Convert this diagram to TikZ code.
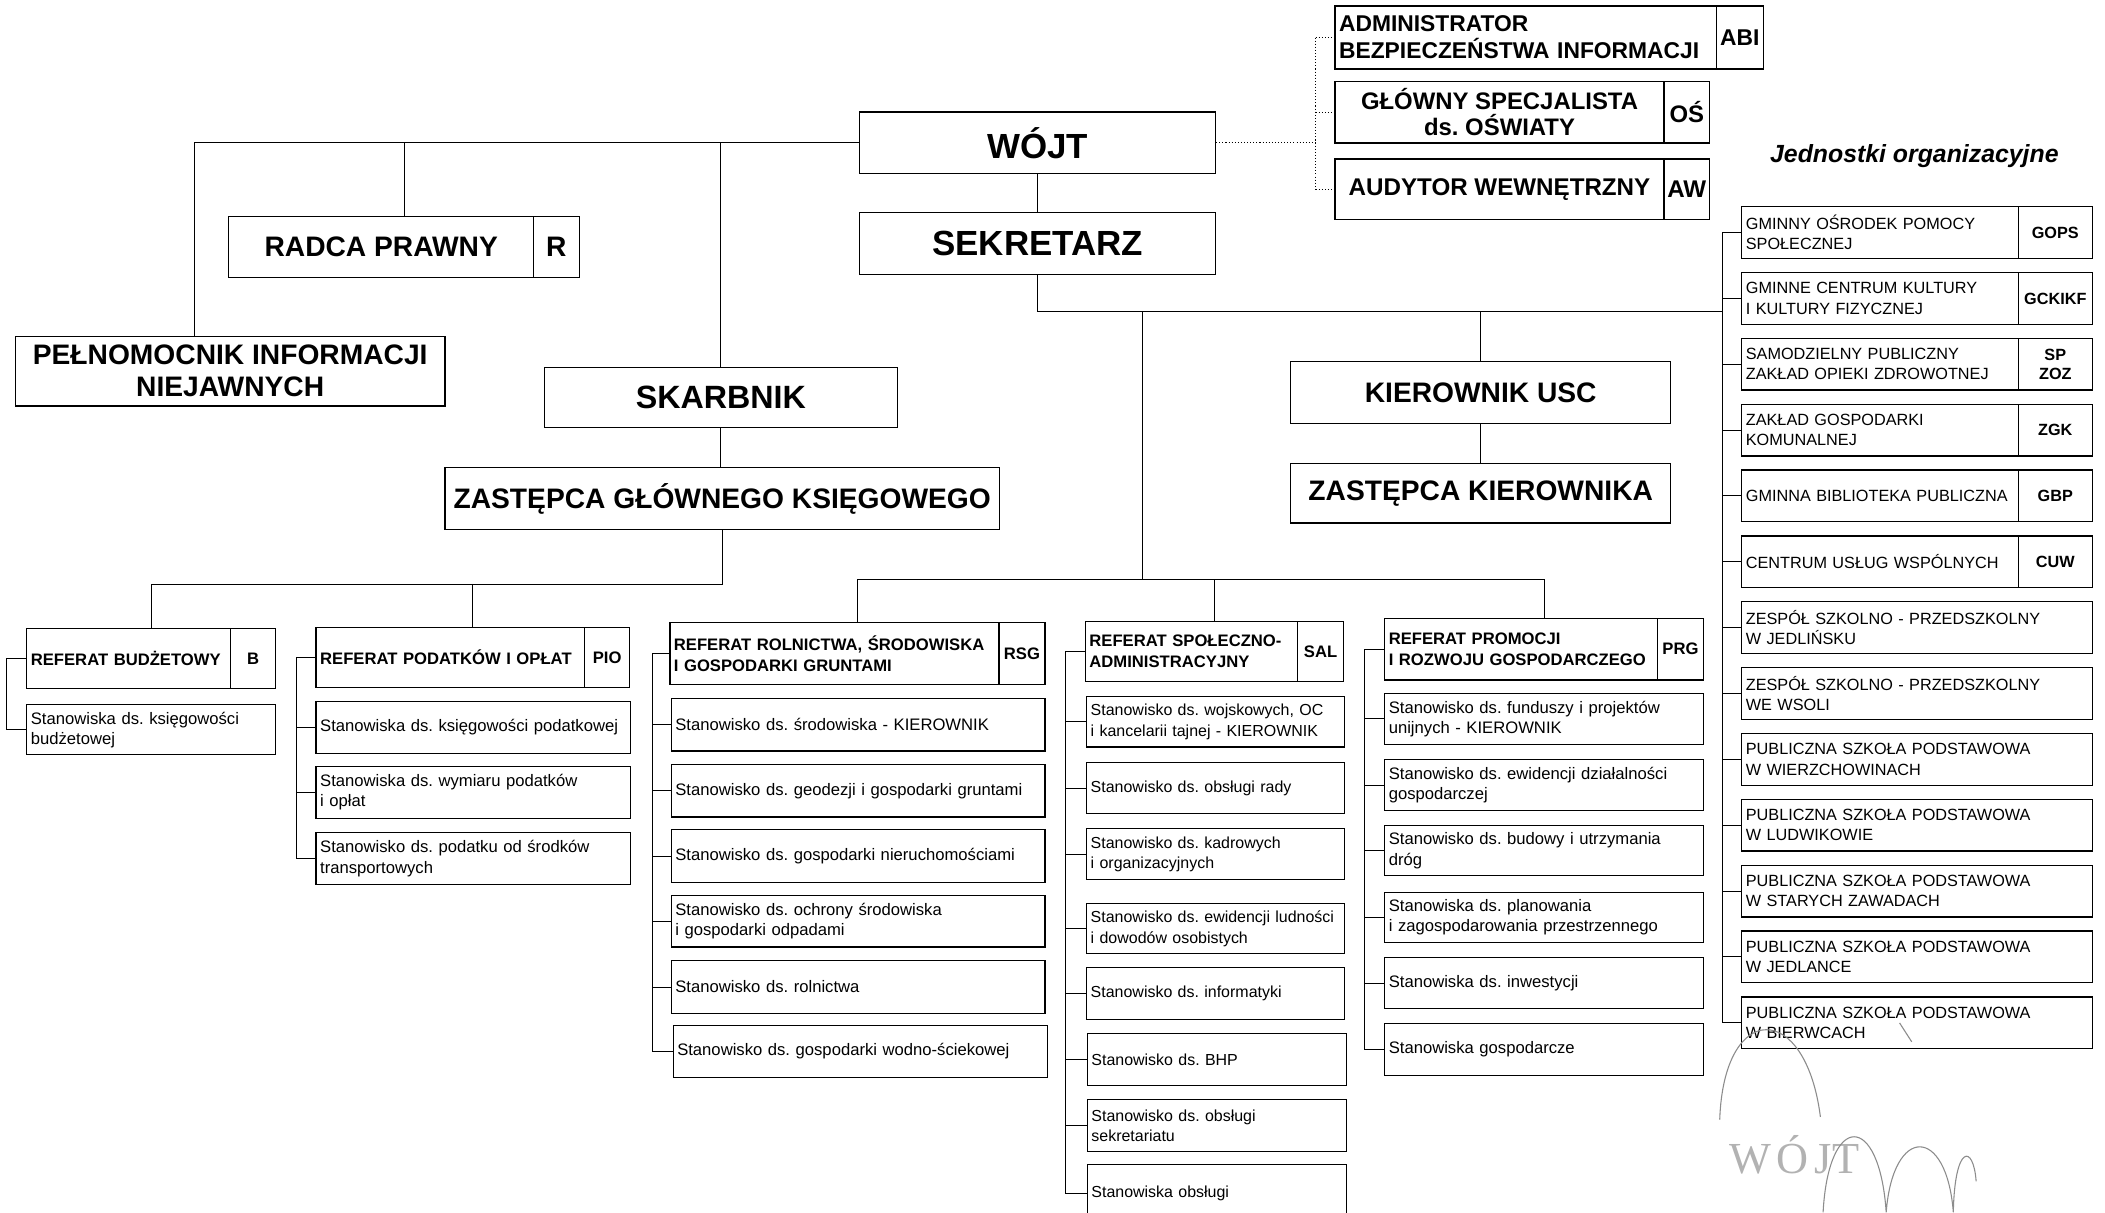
\documentclass[tikz,border=0pt]{standalone}
\usepackage{fontspec}
\setmainfont{Liberation Sans}
\newfontfamily\stampfont{Liberation Serif}
\usetikzlibrary{calc}
\newcommand\fsz[2]{\fontsize{#1}{#2}\selectfont}
\newcommand\mkbox[7][]{\pgfmathsetmacro\mybw{#5-#3}\pgfmathsetmacro\mybh{#6-#4}%
  \node[bx,minimum width=\mybw pt,minimum height=\mybh pt,#1] (#2) at (#3,#4) {#7};}
\newcommand\mklbox[7][]{\pgfmathsetmacro\mybw{#5-#3}\pgfmathsetmacro\mybh{#6-#4}\pgfmathsetmacro\mytw{#5-#3-6}%
  \node[bx,minimum width=\mybw pt,minimum height=\mybh pt,inner xsep=3pt,text width=\mytw pt,align=left,#1] (#2) at (#3,#4) {#7};}
\frenchspacing
\begin{document}
\frenchspacing
\begin{tikzpicture}[x=1pt,y=-1pt,
  bx/.style={draw, line width=0.95pt, inner sep=0pt, anchor=north west, align=center},
  conn/.style={line width=0.7pt},
  dotln/.style={line width=0.7pt, dash pattern=on 0.8pt off 1.5pt},
  hd/.style={font=\bfseries\fsz{21}{24}},
  sm/.style={font=\fsz{12.4}{15}},
  sms/.style={font=\fsz{11.9}{15}},
  smb/.style={font=\bfseries\fsz{12.4}{15.5}},
  rc/.style={font=\fsz{12.1}{15}},
  rcb/.style={font=\bfseries\fsz{12.1}{14}},
  nob/.style={draw=none}]
\fill[white] (0,0) rectangle (1568,903);
\useasboundingbox (0,0) rectangle (1568,903);

% ---- top level
\mkbox[font=\bfseries\fsz{26}{28}]{wojt}{640}{83}{905}{129}{WÓJT}
\mkbox[font=\bfseries\fsz{26}{28}]{sekr}{640}{158}{905}{204}{SEKRETARZ}
\mkbox{radca}{170}{161}{431}{206}{}
\mkbox[hd,nob]{radcat}{170}{161}{397}{206}{RADCA PRAWNY}
\mkbox[hd]{radcar}{397}{161}{431}{206}{R}
\mkbox[hd]{peln}{11}{250}{331}{302}{PEŁNOMOCNIK INFORMACJI\\NIEJAWNYCH}
\mkbox[font=\bfseries\fsz{24}{26}]{skarb}{405}{273}{668}{318}{SKARBNIK}
\mkbox[hd]{zgk}{331}{348}{744}{394}{ZASTĘPCA GŁÓWNEGO KSIĘGOWEGO}
\mkbox[hd]{kusc}{961}{269}{1244}{315}{KIEROWNIK USC}
\mkbox[hd]{zkier}{961}{345}{1244}{389}{ZASTĘPCA KIEROWNIKA}

% ---- advisers
\mkbox{abi}{994}{4}{1313}{51}{}
\mklbox[nob,font=\bfseries\fsz{17}{20}]{abit}{994}{4}{1278}{51}{ADMINISTRATOR\\BEZPIECZEŃSTWA INFORMACJI}
\mkbox[font=\bfseries\fsz{17}{20}]{abia}{1278}{4}{1313}{51}{ABI}
\mkbox{os}{994}{60}{1273}{106}{}
\mkbox[nob,font=\bfseries\fsz{17.8}{20}]{ost}{994}{60}{1239}{106}{GŁÓWNY SPECJALISTA\\ds. OŚWIATY}
\mkbox[font=\bfseries\fsz{17.8}{20}]{osa}{1239}{60}{1273}{106}{OŚ}
\mkbox{aw}{994}{118}{1273}{163}{}
\mkbox[nob,font=\bfseries\fsz{18}{20}]{awt}{994}{118}{1239}{163}{AUDYTOR WEWNĘTRZNY}
\mkbox[font=\bfseries\fsz{18}{20}]{awa}{1239}{118}{1273}{163}{AW}

\node[font=\bfseries\itshape\fsz{18.5}{20}] (jo) at (1426,116) {Jednostki organizacyjne};

% ---- organisational units (right column)
\mkbox{u1}{1297}{153.5}{1558}{192}{}
\mklbox[nob,rc]{u1t}{1297}{153.5}{1503}{192}{GMINNY OŚRODEK POMOCY\\SPOŁECZNEJ}
\mkbox[rcb]{u1a}{1503}{153.5}{1558}{192}{GOPS}
\mkbox{u2}{1297}{202.6}{1558}{241.1}{}
\mklbox[nob,rc]{u2t}{1297}{202.6}{1503}{241.1}{GMINNE CENTRUM KULTURY\\I KULTURY FIZYCZNEJ}
\mkbox[rcb]{u2a}{1503}{202.6}{1558}{241.1}{GCKIKF}
\mkbox{u3}{1297}{251.6}{1558}{290.1}{}
\mklbox[nob,rc]{u3t}{1297}{251.6}{1503}{290.1}{SAMODZIELNY PUBLICZNY\\ZAKŁAD OPIEKI ZDROWOTNEJ}
\mkbox[rcb]{u3a}{1503}{251.6}{1558}{290.1}{SP\\ZOZ}
\mkbox{u4}{1297}{300.7}{1558}{339.2}{}
\mklbox[nob,rc]{u4t}{1297}{300.7}{1503}{339.2}{ZAKŁAD GOSPODARKI\\KOMUNALNEJ}
\mkbox[rcb]{u4a}{1503}{300.7}{1558}{339.2}{ZGK}
\mkbox{u5}{1297}{349.7}{1558}{388.2}{}
\mklbox[nob,rc]{u5t}{1297}{349.7}{1503}{388.2}{GMINNA BIBLIOTEKA PUBLICZNA}
\mkbox[rcb]{u5a}{1503}{349.7}{1558}{388.2}{GBP}
\mkbox{u6}{1297}{398.8}{1558}{437.3}{}
\mklbox[nob,rc]{u6t}{1297}{398.8}{1503}{437.3}{CENTRUM USŁUG WSPÓLNYCH}
\mkbox[rcb]{u6a}{1503}{398.8}{1558}{437.3}{CUW}
\mklbox[rc]{u7}{1297}{447.8}{1558}{486.3}{ZESPÓŁ SZKOLNO - PRZEDSZKOLNY\\W JEDLIŃSKU}
\mklbox[rc]{u8}{1297}{496.9}{1558}{535.4}{ZESPÓŁ SZKOLNO - PRZEDSZKOLNY\\WE WSOLI}
\mklbox[rc]{u9}{1297}{545.9}{1558}{584.4}{PUBLICZNA SZKOŁA PODSTAWOWA\\W WIERZCHOWINACH}
\mklbox[rc]{u10}{1297}{595}{1558}{633.5}{PUBLICZNA SZKOŁA PODSTAWOWA\\W LUDWIKOWIE}
\mklbox[rc]{u11}{1297}{644}{1558}{682.5}{PUBLICZNA SZKOŁA PODSTAWOWA\\W STARYCH ZAWADACH}
\mklbox[rc]{u12}{1297}{693}{1558}{731.5}{PUBLICZNA SZKOŁA PODSTAWOWA\\W JEDLANCE}
\mklbox[rc]{u13}{1297}{742.1}{1558}{780.6}{PUBLICZNA SZKOŁA PODSTAWOWA\\W BIERWCACH}

% ---- Referat budżetowy
\mkbox{bud}{19.5}{467.5}{205}{512.5}{}
\mklbox[nob,smb]{budt}{19.5}{467.5}{171}{512.5}{REFERAT BUDŻETOWY}
\mkbox[smb]{buda}{171}{467.5}{205}{512.5}{B}
\mklbox[sm]{b1}{19.5}{524.5}{205}{561.7}{Stanowiska ds. księgowości\\budżetowej}

% ---- Referat podatków
\mkbox{pio}{235}{467}{468.5}{511.5}{}
\mklbox[nob,smb]{piot}{235}{467}{435}{511.5}{REFERAT PODATKÓW I OPŁAT}
\mkbox[smb]{pioa}{435}{467}{468.5}{511.5}{PIO}
\mklbox[sm]{p1}{235}{522}{469}{561}{Stanowiska ds. księgowości podatkowej}
\mklbox[sm]{p2}{235}{570.5}{469}{609}{Stanowiska ds. wymiaru podatków\\i opłat}
\mklbox[sm]{p3}{235}{619.6}{469}{658.6}{Stanowisko ds. podatku od środków\\transportowych}

% ---- Referat rolnictwa
\mkbox{rsg}{498.5}{463}{778}{509.5}{}
\mklbox[nob,smb]{rsgt}{498.5}{463}{743.6}{509.5}{REFERAT ROLNICTWA, ŚRODOWISKA\\I GOSPODARKI GRUNTAMI}
\mkbox[smb]{rsga}{743.6}{463}{778}{509.5}{RSG}
\mklbox[sm]{r1}{499.6}{520}{778}{559}{Stanowisko ds. środowiska - KIEROWNIK}
\mklbox[sm]{r2}{499.6}{569}{778}{608}{Stanowisko ds. geodezji i gospodarki gruntami}
\mklbox[sm]{r3}{499.6}{617.5}{778}{657}{Stanowisko ds. gospodarki nieruchomościami}
\mklbox[sm]{r4}{499.6}{666.7}{778}{705}{Stanowisko ds. ochrony środowiska\\i gospodarki odpadami}
\mklbox[sm]{r5}{499.6}{715}{778}{754.5}{Stanowisko ds. rolnictwa}
\mklbox[sm]{r6}{501}{763.5}{780}{802}{Stanowisko ds. gospodarki wodno-ściekowej}

% ---- Referat społeczno-administracyjny
\mkbox{sal}{808}{462.6}{1000.5}{507}{}
\mklbox[nob,smb]{salt}{808}{462.6}{966}{507}{REFERAT SPOŁECZNO-\\ADMINISTRACYJNY}
\mkbox[smb]{sala}{966}{462.6}{1000.5}{507}{SAL}
\mklbox[sms]{s1}{809}{518.5}{1001}{556}{Stanowisko ds. wojskowych, OC\\i kancelarii tajnej - KIEROWNIK}
\mklbox[sms]{s2}{809}{567.6}{1001}{605.6}{Stanowisko ds. obsługi rady}
\mklbox[sms]{s3}{809}{616.7}{1001}{654.7}{Stanowisko ds. kadrowych\\i organizacyjnych}
\mklbox[sms]{s4}{809}{672.6}{1001}{710}{Stanowisko ds. ewidencji ludności\\i dowodów osobistych}
\mklbox[sms]{s5}{809}{720}{1001}{759}{Stanowisko ds. informatyki}
\mklbox[sms]{s6}{809.5}{769.6}{1002.7}{808}{Stanowisko ds. BHP}
\mklbox[sms]{s7}{809.5}{818.6}{1002.7}{857}{Stanowisko ds. obsługi\\sekretariatu}
\mklbox[sms]{s8}{809.5}{867}{1002.7}{910}{Stanowiska obsługi}

% ---- Referat promocji
\mkbox{prg}{1031}{460}{1268.6}{506}{}
\mklbox[nob,smb]{prgt}{1031}{460}{1234}{506}{REFERAT PROMOCJI\\I ROZWOJU GOSPODARCZEGO}
\mkbox[smb]{prga}{1234}{460}{1268.6}{506}{PRG}
\mklbox[sm]{g1}{1031}{516}{1268.6}{554}{Stanowisko ds. funduszy i projektów\\unijnych - KIEROWNIK}
\mklbox[sm]{g2}{1031}{565.5}{1268.6}{603}{Stanowisko ds. ewidencji działalności\\gospodarczej}
\mklbox[sm]{g3}{1031}{614.6}{1268.6}{651.8}{Stanowisko ds. budowy i utrzymania\\dróg}
\mklbox[sm]{g4}{1031}{664.3}{1268.6}{701.6}{Stanowiska ds. planowania\\i zagospodarowania przestrzennego}
\mklbox[sm]{g5}{1031}{713}{1268.6}{750.8}{Stanowiska ds. inwestycji}
\mklbox[sm]{g6}{1031}{762}{1268.6}{800.7}{Stanowiska gospodarcze}

% ---- connectors
\coordinate (px) at (145,0);
\coordinate (dx) at (980,0);
\coordinate (rvx) at (1283,232);
\coordinate (rj) at (851,432);
\coordinate (lj) at (0,435);
\coordinate (kb) at (5,0);
\coordinate (kp) at (221,0);
\coordinate (kr) at (486,0);
\coordinate (ks) at (794,0);
\coordinate (kg) at (1016,0);

\draw[conn] (wojt.west) -- (wojt.west -| px) -- (peln.north -| px);
\draw[conn] (wojt.west -| radca.north) -- (radca.north);
\draw[conn] (wojt.west -| skarb.north) -- (skarb.north);
\draw[conn] (wojt.south) -- (sekr.north);
\draw[conn] (skarb.south) -- (skarb.south |- zgk.north);
\draw[conn] (zgk.south) -- (zgk.south |- lj) -- (bud.north |- lj) -- (bud.north);
\draw[conn] (pio.north |- lj) -- (pio.north);

\draw[dotln] (wojt.east) -- (wojt.east -| dx);
\draw[dotln] (abi.west -| dx) -- (aw.west -| dx);
\foreach \n in {abi,os,aw} \draw[dotln] (\n.west -| dx) -- (\n.west);

\draw[conn] (sekr.south) |- (rvx);
\draw[conn] (kusc.north |- rvx) -- (kusc.north);
\draw[conn] (kusc.south) -- (zkier.north);
\draw[conn] (u1.west -| rvx) -- (u13.west -| rvx);
\foreach \n in {1,...,13} \draw[conn] (u\n.west -| rvx) -- (u\n.west);

\draw[conn] (rvx -| rj) -- (rj);
\draw[conn] (rsg.north) -- (rsg.north |- rj) -- (prg.north |- rj) -- (prg.north);
\draw[conn] (sal.north |- rj) -- (sal.north);

\draw[conn] (bud.west) -- (bud.west -| kb) -- (b1.west -| kb) -- (b1.west);
\draw[conn] (pio.west) -- (pio.west -| kp) -- (p3.west -| kp) -- (p3.west);
\foreach \n in {1,2} \draw[conn] (p\n.west -| kp) -- (p\n.west);
\draw[conn] (rsg.west) -- (rsg.west -| kr) -- (r6.west -| kr) -- (r6.west);
\foreach \n in {1,...,5} \draw[conn] (r\n.west -| kr) -- (r\n.west);
\draw[conn] (sal.west) -- (sal.west -| ks) -- (s8.west -| ks) -- (s8.west);
\foreach \n in {1,...,7} \draw[conn] (s\n.west -| ks) -- (s\n.west);
\draw[conn] (prg.west) -- (prg.west -| kg) -- (g6.west -| kg) -- (g6.west);
\foreach \n in {1,...,5} \draw[conn] (g\n.west -| kg) -- (g\n.west);

% ---- stamp and signature
\node[font=\stampfont\fsz{33}{33}, text=black!30] (stamp) at (1337,860) {W\hspace{4pt}Ó\hspace{4pt}J\hspace{1pt}T};
\draw[black!45, line width=0.8pt] (1281,834) .. controls (1284,745) and (1345,745) .. (1356,832);
\draw[black!45, line width=0.8pt] (1358,903) .. controls (1362,828) and (1400,828) .. (1405,903)
  .. controls (1410,838) and (1450,838) .. (1455,903)
  .. controls (1456,852) and (1470,852) .. (1472,880);
\draw[black!45, line width=0.8pt] (1415,762) -- (1424,776);
\end{tikzpicture}
\end{document}
